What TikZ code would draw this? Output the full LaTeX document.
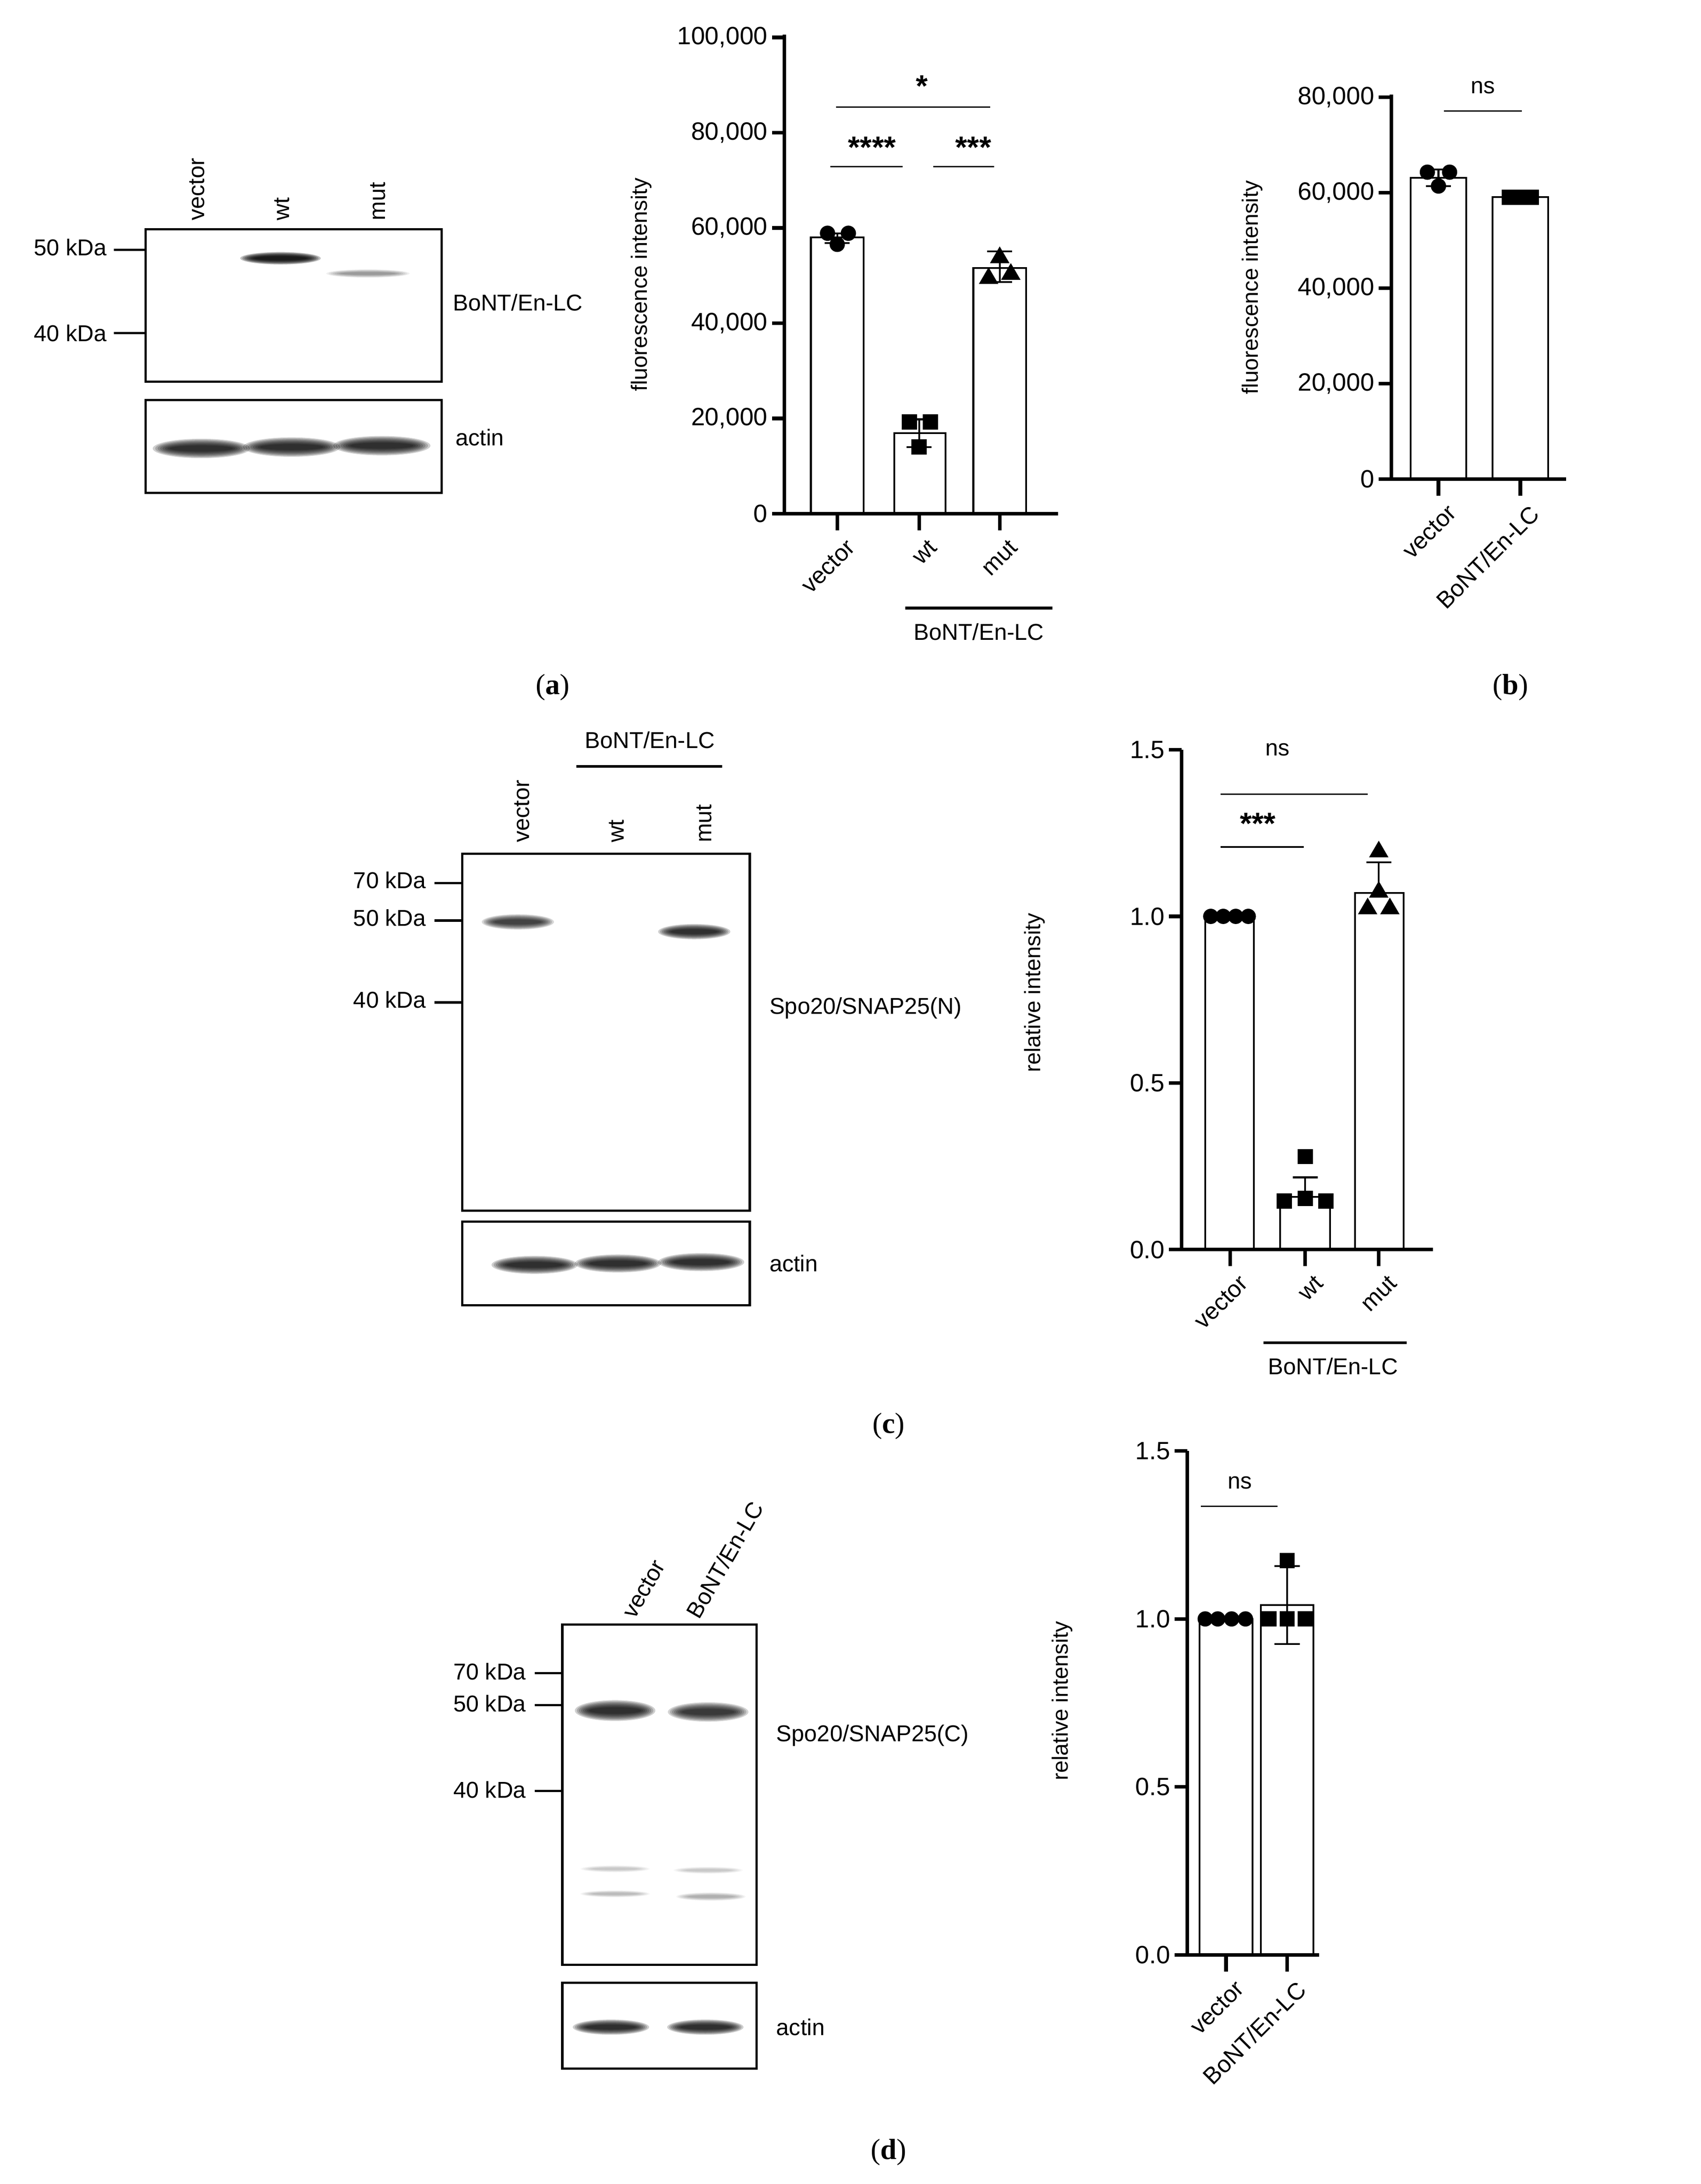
\documentclass[tikz,border=0pt]{standalone}
\usepackage{fontspec}
\setmainfont{Liberation Sans}
\newfontfamily\serif{Liberation Serif}
\begin{document}
\begin{tikzpicture}[x=1pt,y=-1pt,
  tick/.style={font=\fontsize{18}{20}\selectfont,anchor=east,inner sep=3pt},
  ylab/.style={font=\fontsize{16}{18}\selectfont,rotate=90},
  xlab/.style={font=\fontsize{17}{19}\selectfont,rotate=45,anchor=north east,inner sep=1pt},
  blab/.style={font=\fontsize{16.5}{18}\selectfont,inner sep=1pt},
  bar/.style={draw,line width=1.3pt,fill=white},
  ax/.style={line width=2.6pt},
  sig/.style={line width=1pt},
  star/.style={font=\bfseries\fontsize{22}{22}\selectfont},
  pl/.style={font=\serif\fontsize{21}{23}\selectfont},
  blot/.style={draw,line width=1.6pt}]
\useasboundingbox (0,0) rectangle (1225,1573);
\fill[white] (0,0) rectangle (1225,1573);
\newcommand{\pband}[5]{% x y w h opacity
  \foreach \k in {1,0.9,0.8,0.7,0.6,0.5,0.4,0.3}{\fill[black,opacity=#5*0.17] (#1,#2) ellipse ({#3/2*(0.5+0.5*\k)} and {#4/2*\k});}}
\newcommand{\pdot}[2]{\fill (#1,#2) circle (5.5);}
\newcommand{\psq}[2]{\fill (#1-5.5,#2-5.5) rectangle (#1+5.5,#2+5.5);}
\newcommand{\ptri}[2]{\fill (#1-7,#2+5.5) -- (#1+7,#2+5.5) -- (#1,#2-6.5) -- cycle;}
\newcommand{\ebar}[3]{\draw[line width=1.3pt] (#1,#2) -- (#1,#3); \draw[line width=1.3pt] (#1-9,#2) -- (#1+9,#2); \draw[line width=1.3pt] (#1-9,#3) -- (#1+9,#3);}

%================ (a) blot
\node[blab,rotate=90,anchor=west] (la1) at (142,160) {vector};
\node[blab,rotate=90,anchor=west] (la2) at (203,160) {wt};
\node[blab,rotate=90,anchor=west] (la3) at (272,160) {mut};
\pband{202}{186}{58}{9}{1.4}
\pband{265}{197}{60}{6}{0.35}
\draw[blot] (105,165) rectangle (318,275);
\draw[line width=1.6pt] (82,180) -- (105,180);
\draw[line width=1.6pt] (82,240) -- (105,240);
\node[blab,anchor=east] (ma1) at (78,178) {50 kDa};
\node[blab,anchor=east] (ma2) at (78,240) {40 kDa};
\node[blab,anchor=west] (pa1) at (325,218) {BoNT/En-LC};
\pband{145}{323}{70}{14}{1.1}
\pband{210}{322}{70}{14}{1.1}
\pband{275}{321}{70}{14}{1.1}
\draw[blot] (105,288) rectangle (318,355);
\node[blab,anchor=west] (aa1) at (327,315) {actin};

%================ (a) chart
\draw[bar] (584,370) rectangle (622,171);
\draw[bar] (644,370) rectangle (681,312);
\draw[bar] (701,370) rectangle (739,193);
\ebar{603}{168}{175}
\pdot{596}{168}\pdot{611}{168}\pdot{603}{176}
\ebar{662}{302}{322}
\psq{655}{304}\psq{670}{304}\psq{662}{322}
\ebar{720}{181}{203}
\ptri{720}{184}\ptri{712}{199}\ptri{728}{196}
\draw[ax] (565,25) -- (565,370) -- (762,370);
\foreach \v/\t in {0/0,1/20{,}000,2/40{,}000,3/60{,}000,4/80{,}000,5/100{,}000}{
  \draw[ax] (556,370-68.6*\v) -- (565,370-68.6*\v);
  \node[tick] at (556,370-68.6*\v) {\t};}
\foreach \x in {603,662,720}{\draw[ax] (\x,370) -- (\x,382);}
\node[xlab] (xa1) at (609,386) {vector};
\node[xlab] (xa2) at (668,386) {wt};
\node[xlab] (xa3) at (726,386) {mut};
\draw[line width=2pt] (652,438) -- (758,438);
\node[blab] (ga) at (705,455) {BoNT/En-LC};
\node[ylab] (ya) at (462,205) {fluorescence intensity};
\draw[sig] (602,77) -- (713,77); \node[star] at (664,62) {*};
\draw[sig] (598,120) -- (650,120); \node[star] at (628,106) {****};
\draw[sig] (672,120) -- (716,120); \node[star] at (701,106) {***};
\node[pl] (pla) at (398,495) {(\textbf{a})};

%================ (b) chart
\draw[bar] (1016,345) rectangle (1056,128);
\draw[bar] (1075,345) rectangle (1115,142);
\ebar{1036}{122}{134}
\pdot{1028}{124}\pdot{1044}{124}\pdot{1036}{134}
\ebar{1095}{138}{146}
\psq{1087}{142}\psq{1103}{142}\psq{1095}{142}
\draw[ax] (1002,68) -- (1002,345) -- (1128,345);
\foreach \v/\t in {0/0,1/20{,}000,2/40{,}000,3/60{,}000,4/80{,}000}{
  \draw[ax] (993,345-68.75*\v) -- (1002,345-68.75*\v);
  \node[tick] at (993,345-68.75*\v) {\t};}
\foreach \x in {1036,1095}{\draw[ax] (\x,345) -- (\x,357);}
\node[xlab] (xb1) at (1042,361) {vector};
\node[xlab] (xb2) at (1101,361) {BoNT/En-LC};
\node[ylab] (yb) at (902,207) {fluorescence intensity};
\draw[sig] (1040,80) -- (1096,80); \node[blab] at (1068,63) {ns};
\node[pl] (plb) at (1088,495) {(\textbf{b})};

%================ (c) blot
\node[blab] (gc) at (468,533) {BoNT/En-LC};
\draw[line width=2pt] (415,552) -- (520,552);
\node[blab,rotate=90,anchor=west] (lc1) at (376,608) {vector};
\node[blab,rotate=90,anchor=west] (lc2) at (444,608) {wt};
\node[blab,rotate=90,anchor=west] (lc3) at (507,608) {mut};
\pband{373}{664}{52}{11}{0.9}
\pband{500}{671}{52}{11}{1.1}
\draw[blot] (333,615) rectangle (540,872);
\foreach \yy/\t in {636/70 kDa,663/50 kDa,722/40 kDa}{
  \draw[line width=1.6pt] (313,\yy) -- (333,\yy);
  \node[blab,anchor=east] at (308,\yy-2) {\t};}
\node[blab,anchor=west] (pc1) at (553,726) {Spo20/SNAP25(N)};
\pband{385}{911}{62}{13}{1.1}
\pband{445}{910}{62}{13}{1.1}
\pband{505}{909}{62}{13}{1.1}
\draw[blot] (333,880) rectangle (540,940);
\node[blab,anchor=west] (ac1) at (553,910) {actin};

%================ (c) chart
\draw[bar] (868,900) rectangle (903,660);
\draw[bar] (922,900) rectangle (958,862);
\draw[bar] (976,900) rectangle (1011,643);
\pdot{872}{660}\pdot{881}{660}\pdot{890}{660}\pdot{899}{660}
\ebar{940}{848}{862}
\psq{925}{865}\psq{940}{863}\psq{955}{865}\psq{940}{833}
\ebar{993}{621}{643}
\ptri{993}{612}\ptri{985}{653}\ptri{1001}{653}\ptri{993}{641}
\draw[ax] (851,540) -- (851,900) -- (1032,900);
\foreach \v/\t in {0/0.0,1/0.5,2/1.0,3/1.5}{
  \draw[ax] (842,900-120*\v) -- (851,900-120*\v);
  \node[tick] at (842,900-120*\v) {\t};}
\foreach \x in {886,940,993}{\draw[ax] (\x,900) -- (\x,912);}
\node[xlab] (xc1) at (892,916) {vector};
\node[xlab] (xc2) at (946,916) {wt};
\node[xlab] (xc3) at (999,916) {mut};
\draw[line width=2pt] (910,967) -- (1013,967);
\node[blab] (gcc) at (960,984) {BoNT/En-LC};
\node[ylab] (yc) at (745,715) {relative intensity};
\draw[sig] (879,572) -- (985,572); \node[blab] at (920,540) {ns};
\draw[sig] (879,610) -- (939,610); \node[star] at (906,593) {***};
\node[pl] (plc) at (640,1027) {(\textbf{c})};

%================ (d) blot
\node[blab,rotate=60,anchor=west] (ld1) at (452,1165) {vector};
\node[blab,rotate=60,anchor=west] (ld2) at (498,1165) {BoNT/En-LC};
\pband{443}{1232}{58}{15}{1.1}
\pband{510}{1233}{58}{14}{1.0}
\pband{443}{1346}{50}{5}{0.15}
\pband{510}{1347}{50}{5}{0.15}
\pband{443}{1364}{50}{5}{0.2}
\pband{512}{1366}{50}{6}{0.25}
\draw[blot] (405,1170) rectangle (545,1415);
\foreach \yy/\t in {1205/70 kDa,1228/50 kDa,1290/40 kDa}{
  \draw[line width=1.6pt] (385,\yy) -- (405,\yy);
  \node[blab,anchor=east] at (380,\yy-1) {\t};}
\node[blab,anchor=west] (pd1) at (558,1250) {Spo20/SNAP25(C)};
\pband{440}{1460}{55}{11}{1.1}
\pband{508}{1460}{55}{11}{1.1}
\draw[blot] (405,1428) rectangle (545,1490);
\node[blab,anchor=west] (ad1) at (558,1460) {actin};

%================ (d) chart
\draw[bar] (864,1408) rectangle (902,1166);
\draw[bar] (908,1408) rectangle (946,1156);
\pdot{868}{1166}\pdot{877}{1166}\pdot{887}{1166}\pdot{897}{1166}
\ebar{927}{1128}{1184}
\psq{914}{1166}\psq{927}{1166}\psq{940}{1166}\psq{927}{1124}
\draw[ax] (855,1045) -- (855,1408) -- (950,1408);
\foreach \v/\t in {0/0.0,1/0.5,2/1.0,3/1.5}{
  \draw[ax] (846,1408-121*\v) -- (855,1408-121*\v);
  \node[tick] at (846,1408-121*\v) {\t};}
\foreach \x in {883,927}{\draw[ax] (\x,1408) -- (\x,1420);}
\node[xlab] (xd1) at (889,1424) {vector};
\node[xlab] (xd2) at (933,1424) {BoNT/En-LC};
\node[ylab] (yd) at (765,1225) {relative intensity};
\draw[sig] (865,1085) -- (920,1085); \node[blab] at (893,1068) {ns};
\node[pl] (pld) at (640,1550) {(\textbf{d})};
\end{tikzpicture}
\end{document}
